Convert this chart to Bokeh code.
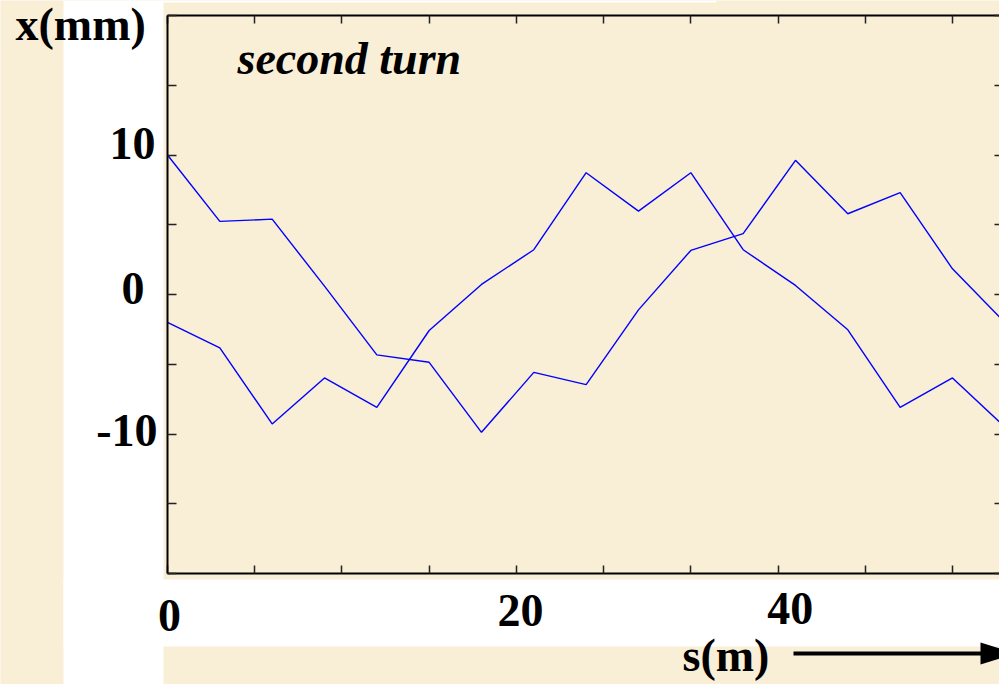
from bokeh.plotting import figure
from bokeh.models import Range1d, LinearAxis, FixedTicker
from bokeh.core.properties import value
from bokeh.embed import file_html
from bokeh.resources import INLINE

# ---- data -------------------------------------------------------------
# longitudinal position along the lattice (m)
s_m = [0, 3, 6, 9, 12, 15, 18, 21, 24, 27, 30, 33, 36, 39, 42, 45, 48]
# horizontal displacement of two particles on the second turn (mm)
x_orbit_1 = [10.0, 5.24, 5.40, 0.60, -4.33, -4.86, -9.88, -5.58, -6.46,
             -1.10, 3.16, 4.36, 9.62, 5.79, 7.30, 1.84, -2.0]
x_orbit_2 = [-1.99, -3.82, -9.28, -5.98, -8.09, -2.58, 0.72, 3.21, 8.73,
             5.98, 8.73, 3.21, 0.65, -2.53, -8.09, -5.98, -9.5]

x_tick_values = [0, 5, 10, 15, 20, 25, 30, 35, 40, 45]
y_tick_values = [-20, -15, -10, -5, 0, 5, 10, 15, 20]
x_label_values = [0, 20, 40]
x_label_text = ["0", "20", "40"]
y_label_values = [10, 0, -10]
y_label_text = ["10", "0", "-10"]

S_MIN, S_MAX = 0, 48
X_MIN, X_MAX = -20, 20

# ---- layout -------------------------------------------------------------
W, H = 999, 684
PX_PER_M = 17.444          # horizontal scale, pixels per metre
PX_PER_MM = 13.95          # vertical scale, pixels per millimetre
LEFT_PX, TOP_PX = 167, 15  # where s = 0 and x = +20 mm sit on the canvas
TEXT_LIFT = 17             # baseline correction for the serif texts (px)

S_LO = -LEFT_PX / PX_PER_M
S_HI = S_LO + W / PX_PER_M
X_HI = X_MAX + TOP_PX / PX_PER_MM
X_LO = X_HI - H / PX_PER_MM


def ds(px):
    """canvas pixel column -> s (m)"""
    return S_LO + px / PX_PER_M


def dx(py):
    """canvas pixel row -> x (mm)"""
    return X_HI - py / PX_PER_MM


def tx(py):
    """text baseline row -> x (mm)"""
    return dx(py - TEXT_LIFT)


PARCHMENT = "#F9EED6"
FONT = "Liberation Serif"
BLUE = "#0000FF"

p = figure(width=W, height=H, x_range=Range1d(S_LO, S_HI), y_range=Range1d(X_LO, X_HI),
           output_backend="svg", toolbar_location=None,
           x_axis_location=None, y_axis_location=None,
           min_border=0, min_border_left=0, min_border_right=0,
           min_border_top=0, min_border_bottom=0)
p.background_fill_color = PARCHMENT
p.border_fill_color = PARCHMENT
p.outline_line_color = None
p.xgrid.visible = False
p.ygrid.visible = False

# white panels of the slide around the plot box
panels = [(63, 163, 0, H), (63, W + 5, 579, 646), (163, 716, 0, 2)]
p.quad(left=[ds(a) for a, b, c, d in panels], right=[ds(b) for a, b, c, d in panels],
       top=[dx(c) for a, b, c, d in panels], bottom=[dx(d) for a, b, c, d in panels],
       fill_color="white", line_color=None)

# the two trajectories
p.line(s_m, x_orbit_1, line_color=BLUE, line_width=1.4)
p.line(s_m, x_orbit_2, line_color=BLUE, line_width=1.4)


def frame_axis(side, location, bounds, ticks, tick_len, line=True):
    ax = LinearAxis(fixed_location=location, bounds=bounds,
                    ticker=FixedTicker(ticks=[], minor_ticks=ticks))
    ax.minor_tick_in = tick_len
    ax.minor_tick_out = 0
    ax.minor_tick_line_color = "#222222"
    ax.minor_tick_line_width = 1.5
    ax.axis_line_color = "black" if line else None
    ax.axis_line_width = 2
    p.add_layout(ax, side)
    return ax


frame_axis("left", S_MIN, (X_MIN, X_MAX), y_tick_values, 9)
frame_axis("below", X_MIN, (S_MIN, S_MAX + 2), x_tick_values, 8)
frame_axis("above", X_MAX, (S_MIN, S_MAX + 2), x_tick_values, 8)
frame_axis("right", ds(W + 4), (X_MIN, X_MAX), y_tick_values, 9, line=False)

text_kw = dict(text_font=value(FONT), text_font_style="bold", text_font_size="46px",
               text_baseline="alphabetic", text_color="black")

# y tick labels: right edge and baseline offset (px) relative to the tick
y_lab_dx = [-12, -23, -10]
y_lab_dy = [5, 11, 13]
p.text(x=[S_MIN + d / PX_PER_M for d in y_lab_dx],
       y=[v - (d - TEXT_LIFT) / PX_PER_MM for v, d in zip(y_label_values, y_lab_dy)],
       text=y_label_text, text_align="right", **text_kw)

# s tick labels: centre offset (px) from the tick, baseline on the canvas
x_lab_dx = [2, 4, -75]
x_lab_base = [632, 627, 625]
p.text(x=[v + d / PX_PER_M for v, d in zip(x_label_values, x_lab_dx)],
       y=[tx(b) for b in x_lab_base],
       text=x_label_text, text_align="center", **text_kw)

# axis titles and panel caption
p.text(x=[ds(15), ds(682)], y=[tx(41), tx(672)], text=["x(mm)", "s(m)"],
       text_align="left", **text_kw)
p.text(x=[ds(237)], y=[tx(75)], text=["second turn"], text_align="left",
       **{**text_kw, "text_font_style": "bold italic"})

# direction arrow for s
p.segment(x0=[ds(793)], y0=[dx(653)], x1=[ds(985)], y1=[dx(653)],
          line_color="black", line_width=4)
p.patch(x=[ds(980), ds(980), ds(1016)], y=[dx(642), dx(664), dx(653)],
        fill_color="black", line_color=None)

open("out.html", "w").write(file_html(p, INLINE))
